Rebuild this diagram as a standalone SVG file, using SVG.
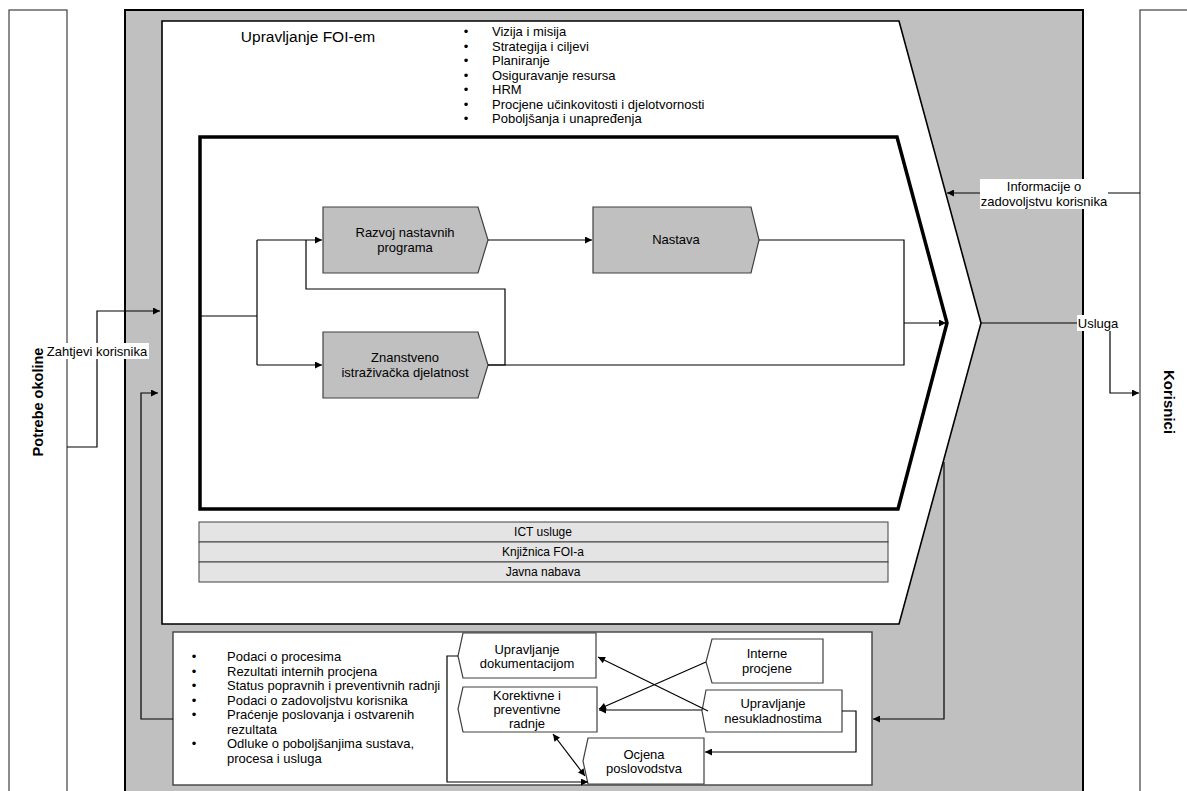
<svg xmlns="http://www.w3.org/2000/svg" width="1187" height="791" viewBox="0 0 1187 791">
<defs>
<marker id="arr" viewBox="0 0 10 10" refX="10" refY="5" markerUnits="userSpaceOnUse" markerWidth="9" markerHeight="7" orient="auto-start-reverse">
<path d="M0,0 L10,5 L0,10 z" fill="#000"/>
</marker>
</defs>
<style>
text{font-family:"Liberation Sans",Arial,sans-serif;fill:#000}
.t13{font-size:13px}
.c{text-anchor:middle}
.node{fill:#c0c0c0;stroke:#404040;stroke-width:1.2}
.bnode{fill:#fff;stroke:#404040;stroke-width:1.2}
.row{fill:#e4e4e4;stroke:#404040;stroke-width:1}
.ln{fill:none;stroke:#000;stroke-width:1.2}
.lna{fill:none;stroke:#000;stroke-width:1.2;marker-end:url(#arr)}
.lbl{fill:#fff}
.side{fill:#fff;stroke:#404040;stroke-width:1.2}
</style>
<rect width="1187" height="791" fill="#fff"/>

<g id="potrebe-okoline">
<rect class="side" x="9" y="10" width="58" height="800"/>
<text x="38" y="402" transform="rotate(-90 38 402)" class="c" font-size="14.5" font-weight="bold" dy="5">Potrebe okoline</text>
</g>

<g id="korisnici">
<rect class="side" x="1140" y="10" width="58" height="800"/>
<text x="1169" y="402" transform="rotate(90 1169 402)" class="c" font-size="15" font-weight="bold" dy="5">Korisnici</text>
</g>

<g id="fakultet">
<rect x="125" y="10" width="958" height="800" fill="#c0c0c0" stroke="#000" stroke-width="2"/>
</g>

<g id="upravljanje-foi">
<path d="M162,21 H899 L981,323 L899,624 H162 Z" fill="#fff" stroke="#000" stroke-width="1.6"/>
<text x="308" y="42" class="c" font-size="15.5">Upravljanje FOI-em</text>
<g class="t13">
<text x="466" y="36" class="c">•</text><text x="492" y="36">Vizija i misija</text>
<text x="466" y="50.5" class="c">•</text><text x="492" y="50.5">Strategija i ciljevi</text>
<text x="466" y="65" class="c">•</text><text x="492" y="65">Planiranje</text>
<text x="466" y="79.5" class="c">•</text><text x="492" y="79.5">Osiguravanje resursa</text>
<text x="466" y="94" class="c">•</text><text x="492" y="94">HRM</text>
<text x="466" y="108.5" class="c">•</text><text x="492" y="108.5">Procjene učinkovitosti i djelotvornosti</text>
<text x="466" y="123" class="c">•</text><text x="492" y="123">Poboljšanja i unapređenja</text>
</g>
</g>

<g id="glavni-procesi">
<path d="M200,137 H897 L947,323 L898,509 H200 Z" fill="#fff" stroke="#000" stroke-width="3.5"/>
</g>

<g id="razvoj">
<path class="node" d="M323,207 H478 L488,240 L478,273 H323 Z"/>
<text x="405" y="237" class="t13 c">Razvoj nastavnih</text>
<text x="405" y="252" class="t13 c">programa</text>
</g>

<g id="nastava">
<path class="node" d="M593,207 H751 L759,240 L751,273 H593 Z"/>
<text x="676" y="244" class="t13 c">Nastava</text>
</g>

<g id="znanstveno">
<path class="node" d="M323,332 H478 L488,365 L478,398 H323 Z"/>
<text x="405" y="362" class="t13 c">Znanstveno</text>
<text x="405" y="377" class="t13 c">istraživačka djelatnost</text>
</g>

<g id="podrska">
<rect class="row" x="199" y="522" width="689" height="20"/>
<rect class="row" x="199" y="542" width="689" height="20"/>
<rect class="row" x="199" y="562" width="689" height="20"/>
<text x="543" y="536" class="c" font-size="12">ICT usluge</text>
<text x="543" y="556" class="c" font-size="12">Knjižnica FOI-a</text>
<text x="543" y="576" class="c" font-size="12">Javna nabava</text>
</g>

<g id="sustav-kvalitete">
<rect x="173" y="632" width="699" height="153" fill="#fff" stroke="#404040" stroke-width="1.4"/>
<g class="t13">
<text x="194" y="661" class="c">•</text><text x="227" y="661">Podaci o procesima</text>
<text x="194" y="675.5" class="c">•</text><text x="227" y="675.5">Rezultati internih procjena</text>
<text x="194" y="690" class="c">•</text><text x="227" y="690">Status popravnih i preventivnih radnji</text>
<text x="194" y="704.5" class="c">•</text><text x="227" y="704.5">Podaci o zadovoljstvu korisnika</text>
<text x="194" y="719" class="c">•</text><text x="227" y="719">Praćenje poslovanja i ostvarenih</text>
<text x="227" y="733.5">rezultata</text>
<text x="194" y="748" class="c">•</text><text x="227" y="748">Odluke o poboljšanjima sustava,</text>
<text x="227" y="762.5">procesa i usluga</text>
</g>
</g>

<g id="upravljanje-dokumentacijom">
<path class="bnode" d="M463,633 H596 V678 H463 L458,656 Z"/>
<text x="527" y="654" class="t13 c">Upravljanje</text>
<text x="527" y="668" class="t13 c">dokumentacijom</text>
</g>

<g id="korektivne">
<path class="bnode" d="M463,687 H597 V732 H463 L458,709 Z"/>
<text x="527" y="700" class="t13 c">Korektivne i</text>
<text x="527" y="714" class="t13 c">preventivne</text>
<text x="527" y="728" class="t13 c">radnje</text>
</g>

<g id="ocjena">
<path class="bnode" d="M588,738 H704 V784 H588 L583,761 Z"/>
<text x="644" y="759" class="t13 c">Ocjena</text>
<text x="644" y="773" class="t13 c">poslovodstva</text>
</g>

<g id="interne-procjene">
<path class="bnode" d="M712,639 H823 V683 H712 L706,662 Z"/>
<text x="767" y="658" class="t13 c">Interne</text>
<text x="767" y="673" class="t13 c">procjene</text>
</g>

<g id="nesukladnosti">
<path class="bnode" d="M706,690 H842 V732 H706 L702,711 Z"/>
<text x="773" y="708" class="t13 c">Upravljanje</text>
<text x="773" y="723" class="t13 c">nesukladnostima</text>
</g>

<g id="connectors">
<path class="lna" d="M67,447 H97 V311 H160"/>
<path class="lna" d="M173,719 H141 V393 H158"/>
<path class="ln" d="M200,316 H257 M257,240 V365"/>
<path class="lna" d="M257,240 H322"/>
<path class="lna" d="M257,365 H322"/>
<path class="ln" d="M488,365 H505 V289 H306 V240"/>
<path class="lna" d="M488,240 H592"/>
<path class="ln" d="M759,240 H904 V365 H488"/>
<path class="lna" d="M904,323 H946"/>
<path class="lna" d="M1140,193 H947"/>
<path class="lna" d="M981,323 H1110 V393 H1139"/>
<path class="lna" d="M944,462 V719 H873"/>
<path class="lna" d="M458,656 H447 V782 H588"/>
<path class="lna" d="M706,662 L599,709"/>
<path class="lna" d="M702,710 H599"/>
<path class="lna" d="M708,711 L598,657"/>
<path class="lna" d="M842,711 H856 V752 H705"/>
<path class="ln" d="M553,734 L585,776" marker-start="url(#arr)" marker-end="url(#arr)"/>
<rect class="lbl" x="45" y="343" width="104" height="16"/>
<text x="97" y="355.5" class="t13 c">Zahtjevi korisnika</text>
<rect class="lbl" x="980" y="179" width="128" height="30"/>
<text x="1044" y="191" class="t13 c">Informacije o</text>
<text x="1044" y="206" class="t13 c">zadovoljstvu korisnika</text>
<rect class="lbl" x="1077" y="315" width="42" height="16"/>
<text x="1098" y="327.5" class="t13 c">Usluga</text>
</g>
</svg>
